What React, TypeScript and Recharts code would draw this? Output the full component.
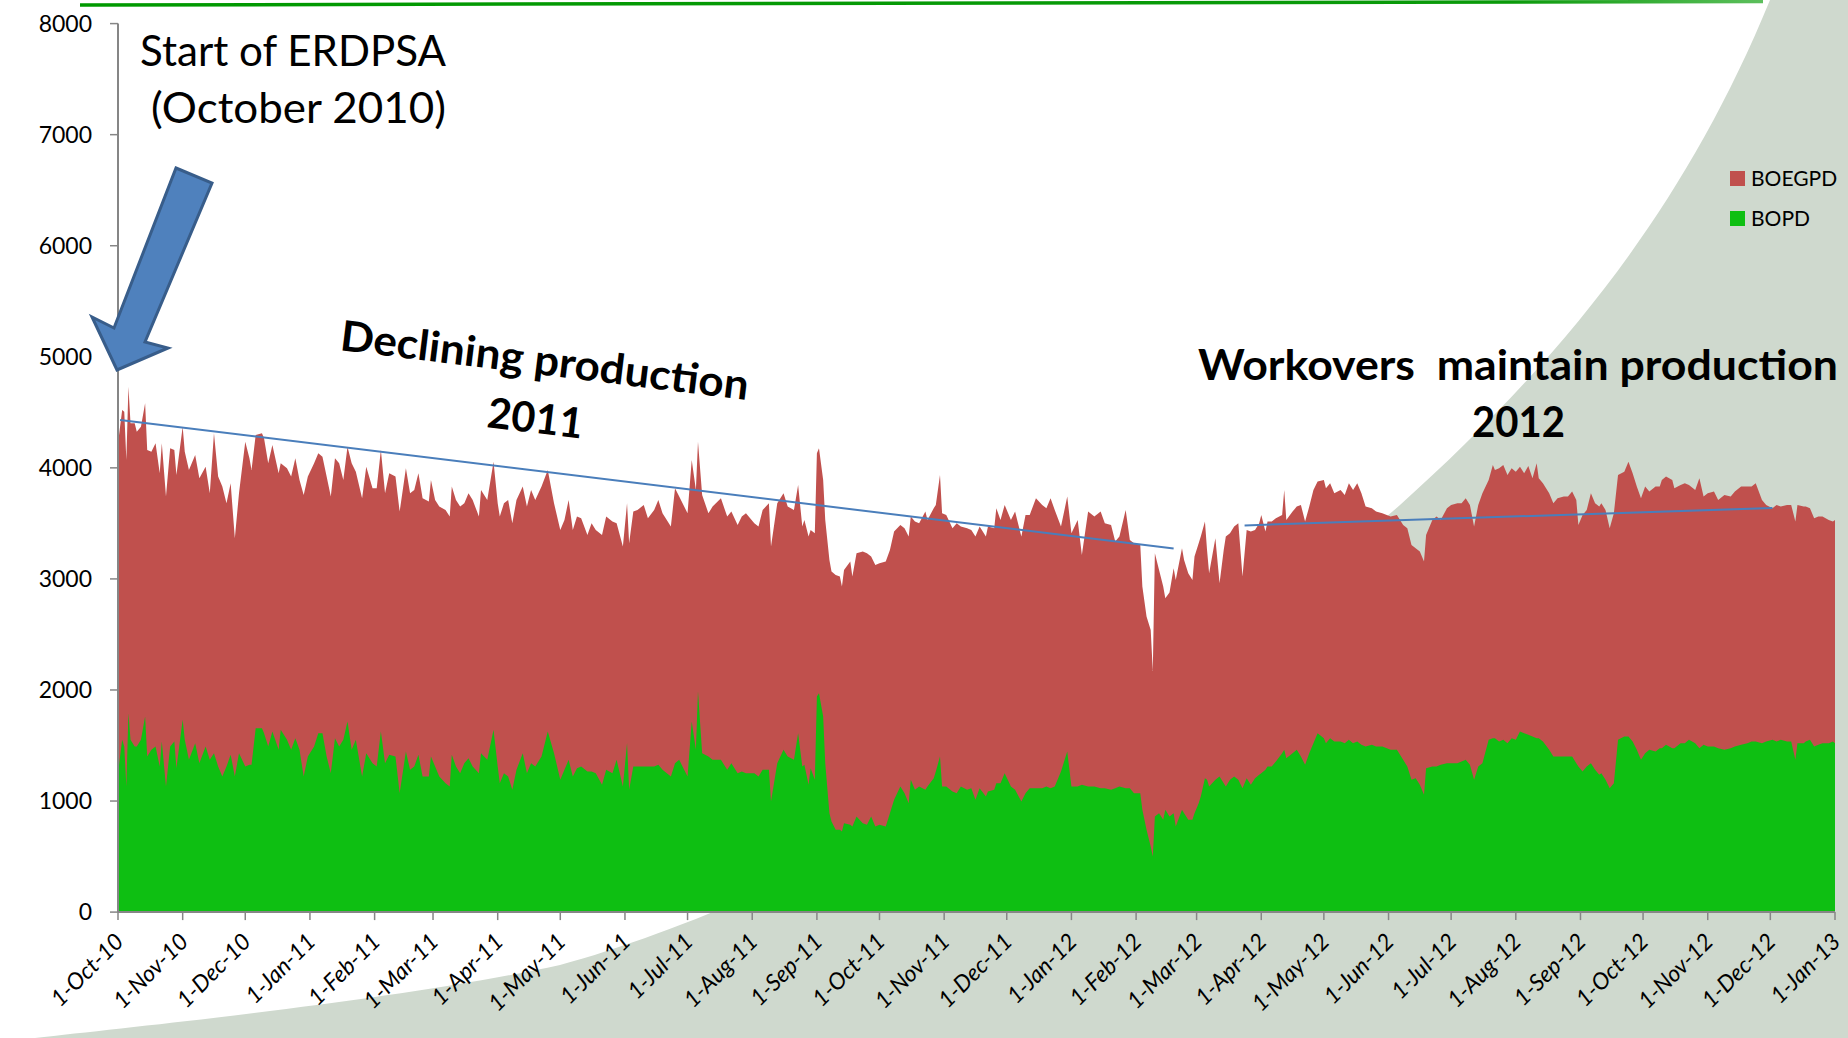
import React from 'react';
import { ComposedChart, Area, XAxis, YAxis, ReferenceLine, Legend } from 'recharts';

// Day offsets from 1-Oct-2010
const DAYS = [
  0,2,3,4,5,6,8,9,11,13,14,16,18,20,21,23,25,27,28,31,32,34,37,39,42,44,46,48,50,52,54,56,58,61,63,64,66,69,70,72,74,77,78,81,83,85,87,89,91,94,96,98,100,102,104,106,108,110,112,114,117,119,122,124,126,128,130,133,135,138,140,142,144,146,149,150,152,154,157,159,160,162,
  164,166,168,170,173,174,177,180,182,183,185,187,189,191,194,196,198,200,203,206,209,212,214,216,218,220,222,225,227,229,232,234,237,239,242,244,245,247,249,252,254,257,259,261,265,267,269,273,275,277,278,280,283,285,289,292,294,297,299,301,305,307,309,312,313,316,319,321,324,326,328,
  329,331,332,334,335,336,338,339,341,342,344,346,347,348,351,352,354,357,359,361,363,365,368,370,372,375,377,379,380,382,384,387,388,391,392,394,395,397,400,402,404,407,409,411,413,416,417,420,421,423,425,428,430,433,435,437,440,443,445,447,449,452,455,457,460,462,465,468,471,473,476,478,480,483,485,487,490,491,493,495,
  496,
  497,499,501,502,504,506,507,510,511,513,515,516,518,519,521,522,523,526,528,530,531,533,535,537,539,541,543,545,547,548,550,551,553,555,558,559,560,563,565,567,569,571,573,575,578,579,581,583,586,588,590,592,594,596,598,601,603,606,610,613,616,618,620,622,624,626,627,630,632,634,637,639,642,644,646,648,650,652,654,657,659,
  660,662,664,666,668,670,672,674,676,678,680,681,683,686,688,690,693,695,697,699,700,702,704,706,708,710,711,713,715,717,719,722,724,726,728,730,732,734,737,739,740,742,745,746,749,751,753,756,758,760,762,765,767,770,773,775,778,781,783,785,788,790,793,795,797,800,802,804,805,808,809,811,813,815,817,820,822,823,
];

const BOEGPD = [
  4221,4521,4506,4071,4731,4401,4401,4326,4371,4581,4161,4146,4221,3951,4221,3741,4176,4161,3936,4371,4146,3981,4116,3906,4011,3771,4311,3921,3831,3681,3861,3366,3771,4236,4086,3981,4296,4311,4266,4041,4206,3951,4041,3996,3921,4086,3891,3756,3921,4041,4131,4101,3921,3741,4086,4041,3891,4191,4041,3966,3726,4011,3816,3816,4161,3771,3951,3921,3606,3996,3771,3801,3951,3726,3696,3891,3711,3651,3621,3561,3831,3711,
  3651,3681,3771,3711,3561,3801,3711,4056,3681,3561,3681,3711,3501,3711,3831,3651,3801,3711,3831,3981,3681,3441,3531,3711,3441,3561,3546,3396,3501,3441,3396,3561,3516,3501,3291,3681,3321,3606,3621,3666,3546,3621,3711,3591,3471,3816,3741,3591,4071,3801,4236,3756,3591,3651,3726,3561,3606,3486,3561,3591,3501,3471,3621,3681,3291,3681,3771,3651,3621,3846,3471,
  3531,3381,3441,3411,4131,4176,3891,3531,3171,3066,3036,3021,2931,3081,3156,3021,3231,3246,3231,3201,3126,3141,3156,3261,3426,3486,3456,3381,3561,3516,3501,3606,3531,3636,3666,3936,3591,3576,3456,3501,3471,3456,3441,3381,3471,3381,3471,3456,3636,3531,3666,3531,3606,3381,3576,3576,3726,3666,3636,3726,3621,3471,3741,3411,3531,3216,3606,3561,3606,3501,3486,3336,3381,3621,3351,3321,3306,2931,2661,2541,
  2170,
  3231,3081,2931,2826,2877,3096,2991,3276,3171,3051,2991,3201,3321,3381,3516,3261,3051,3366,2961,3261,3381,3411,3471,3501,3021,3441,3426,3441,3501,3576,3426,3516,3516,3546,3576,3801,3531,3606,3651,3666,3516,3651,3801,3876,3891,3816,3861,3771,3801,3756,3861,3801,3861,3771,3651,3636,3606,3591,3561,3576,3486,3456,3306,3276,3246,3156,3396,3531,3561,3531,3636,3666,3681,3681,3726,3666,3471,3666,3771,3891,4026,
  3981,3996,4026,3936,3996,3966,4011,3951,4017,3906,4041,3906,3861,3771,3681,3726,3741,3741,3786,3711,3486,3576,3621,3771,3681,3651,3681,3621,3456,3591,3936,3966,4056,3951,3831,3726,3831,3786,3831,3831,3891,3921,3891,3816,3846,3861,3846,3801,3906,3741,3771,3786,3711,3756,3741,3786,3831,3831,3831,3861,3711,3666,3636,3666,3651,3666,3666,3516,3666,3651,3651,3636,3546,3561,3561,3531,3516,3531,
];

const BOPD = [
  1251,1551,1491,1131,1791,1551,1491,1491,1551,1761,1401,1461,1491,1311,1536,1131,1491,1536,1296,1731,1551,1371,1521,1341,1491,1371,1431,1311,1221,1311,1416,1221,1431,1311,1326,1326,1656,1656,1611,1491,1626,1461,1641,1551,1461,1566,1461,1221,1401,1491,1611,1611,1401,1251,1566,1491,1551,1716,1461,1551,1221,1431,1341,1311,1626,1341,1416,1401,1071,1446,1281,1311,1416,1221,1221,1401,1311,1221,1161,1131,1416,1311,
  1251,1341,1386,1311,1251,1431,1371,1641,1311,1161,1251,1221,1101,1281,1431,1251,1341,1311,1401,1626,1431,1191,1281,1371,1221,1296,1311,1266,1266,1251,1146,1281,1251,1371,1131,1521,1101,1311,1311,1311,1311,1311,1326,1281,1221,1341,1371,1221,1716,1461,1986,1431,1401,1371,1371,1281,1341,1251,1266,1251,1251,1221,1281,1281,996,1341,1461,1401,1371,1611,1311,
  1326,1146,1296,1191,1941,1971,1761,1341,891,816,741,741,726,801,786,771,861,801,786,861,771,786,771,891,1011,1131,1071,981,1191,1101,1131,1101,1131,1206,1266,1401,1131,1131,1086,1071,1131,1101,1116,1011,1116,1041,1086,1101,1161,1161,1251,1131,1101,996,1071,1116,1116,1116,1131,1116,1131,1266,1446,1131,1131,1146,1131,1131,1116,1116,1101,1116,1131,1116,1116,1071,1071,921,741,591,
  500,
  861,891,831,921,861,891,771,921,891,831,831,891,981,1041,1206,1191,1131,1191,1221,1161,1131,1191,1221,1191,1116,1206,1146,1206,1236,1251,1281,1311,1311,1356,1431,1461,1386,1431,1461,1401,1326,1431,1521,1611,1566,1521,1566,1536,1536,1521,1551,1521,1536,1506,1491,1506,1491,1491,1461,1461,1371,1311,1191,1206,1146,1056,1296,1311,1311,1326,1341,1341,1341,1356,1371,1326,1191,1311,1341,1551,1566,
  1566,1536,1551,1521,1566,1551,1626,1611,1596,1581,1566,1566,1536,1461,1401,1401,1401,1401,1401,1341,1311,1266,1311,1341,1281,1236,1251,1191,1116,1161,1551,1581,1581,1536,1461,1371,1431,1461,1446,1476,1476,1506,1476,1476,1521,1521,1551,1521,1476,1506,1491,1491,1476,1461,1476,1491,1506,1521,1536,1536,1521,1536,1551,1536,1551,1536,1536,1371,1521,1521,1536,1551,1491,1506,1521,1521,1536,1521,
];

const TICK_DAYS = [0,31,61,92,123,151,182,212,243,273,304,335,365,396,426,457,488,517,548,578,609,639,670,701,731,762,792,823];
const TICK_LABELS = ['1-Oct-10','1-Nov-10','1-Dec-10','1-Jan-11','1-Feb-11','1-Mar-11','1-Apr-11','1-May-11','1-Jun-11','1-Jul-11','1-Aug-11','1-Sep-11','1-Oct-11','1-Nov-11','1-Dec-11','1-Jan-12','1-Feb-12','1-Mar-12','1-Apr-12','1-May-12','1-Jun-12','1-Jul-12','1-Aug-12','1-Sep-12','1-Oct-12','1-Nov-12','1-Dec-12','1-Jan-13'];
const Y_TICKS = [0,1000,2000,3000,4000,5000,6000,7000,8000];

const TREND_2011 = [{ day: 1, value: 4431 }, { day: 506, value: 3273 }];
const TREND_2012 = [{ day: 540, value: 3482 }, { day: 793, value: 3639 }];

const SERIES_NAMES = ['BOEGPD', 'BOPD'];
const SERIES_COLORS = ['#c0504d', '#0ebf12'];

const data = DAYS.map((d, i) => ({ day: d, boegpd: BOEGPD[i], bopd: BOPD[i] }));

const FONT = 'Lato, "Open Sans", sans-serif';

const XTick = (props: any) => {
  const { x, y, payload } = props;
  const idx = TICK_DAYS.indexOf(payload.value);
  const label = idx >= 0 ? TICK_LABELS[idx] : '';
  const ex = x + 7;
  const ey = y + 23;
  return (
    <text
      transform={`rotate(-45, ${ex}, ${ey})`}
      x={ex}
      y={ey}
      textAnchor="end"
      fontSize={23}
      fontStyle="italic"
      fontFamily={FONT}
      fill="#000"
    >
      {label}
    </text>
  );
};

const renderLegend = () => (
  <svg width={120} height={80} style={{ display: 'block' }}>
    {SERIES_NAMES.map((n, i) => (
      <g key={n}>
        <rect x={2} y={11 + i * 40} width={15} height={15} fill={SERIES_COLORS[i]} />
        <text x={23} y={26 + i * 40} fontSize={21} fontFamily={FONT} fill="#000">
          {n}
        </text>
      </g>
    ))}
  </svg>
);

export default function App() {
  return (
    <div style={{ position: 'absolute', left: 0, top: 0, width: 1848, height: 1038, overflow: 'hidden', background: '#ffffff' }}>
      <svg width={1848} height={1038} style={{ position: 'absolute', left: 0, top: 0 }}>
        <path
          d="M 35 1038 C 150 1025, 400 1000, 560 965 C 800 900, 1200 680, 1400 505 C 1550 370, 1680 220, 1770 0 L 1848 0 L 1848 1038 Z"
          fill="#cfd9ce"
        />
      </svg>
      <div style={{ position: 'absolute', left: 0, top: 0 }}>
        <ComposedChart
          width={1848}
          height={1038}
          data={data}
          margin={{ top: 23.6, right: 13, bottom: 25.9, left: 18 }}
        >
          <XAxis
            dataKey="day"
            type="number"
            domain={[0, 823]}
            ticks={TICK_DAYS}
            interval={0}
            height={100}
            tickSize={8}
            tickMargin={0}
            axisLine={{ stroke: '#868686', strokeWidth: 2 }}
            tickLine={{ stroke: '#868686', strokeWidth: 1.5 }}
            tick={<XTick />}
            allowDataOverflow
          />
          <YAxis
            type="number"
            domain={[0, 8000]}
            ticks={Y_TICKS}
            interval={0}
            width={100}
            tickSize={8}
            tickMargin={18}
            axisLine={{ stroke: '#868686', strokeWidth: 2 }}
            tickLine={{ stroke: '#868686', strokeWidth: 1.5 }}
            tick={{ fill: '#000', fontSize: 23, fontFamily: FONT }}
          />
          <Area
            name={SERIES_NAMES[0]}
            dataKey="boegpd"
            type="linear"
            stroke="none"
            fill={SERIES_COLORS[0]}
            fillOpacity={1}
            isAnimationActive={false}
            dot={false}
            activeDot={false}
          />
          <Area
            name={SERIES_NAMES[1]}
            dataKey="bopd"
            type="linear"
            stroke="none"
            fill={SERIES_COLORS[1]}
            fillOpacity={1}
            isAnimationActive={false}
            dot={false}
            activeDot={false}
          />
          <ReferenceLine
            segment={[{ x: TREND_2011[0].day, y: TREND_2011[0].value }, { x: TREND_2011[1].day, y: TREND_2011[1].value }]}
            stroke="#4a7ebb"
            strokeWidth={2}
            ifOverflow="visible"
          />
          <ReferenceLine
            segment={[{ x: TREND_2012[0].day, y: TREND_2012[0].value }, { x: TREND_2012[1].day, y: TREND_2012[1].value }]}
            stroke="#4a7ebb"
            strokeWidth={2}
            ifOverflow="visible"
          />
          <Legend
            layout="horizontal"
            verticalAlign="middle"
            align="center"
            wrapperStyle={{ position: 'absolute', top: 160, left: 1728, width: 120, height: 80 }}
            content={renderLegend}
          />
        </ComposedChart>
      </div>
      <svg width={1848} height={1038} style={{ position: 'absolute', left: 0, top: 0, pointerEvents: 'none' }}>
        <defs>
          <linearGradient id="topline" gradientUnits="userSpaceOnUse" x1={80} y1={0} x2={1763} y2={0}>
            <stop offset="0" stopColor="#009900" />
            <stop offset="0.85" stopColor="#0a9a0a" />
            <stop offset="1" stopColor="#5cbf5c" />
          </linearGradient>
        </defs>
        <line x1={80} y1={5} x2={1763} y2={1.5} stroke="url(#topline)" strokeWidth={3.5} />
        <polygon
          points="176,168 212,183 145,342 168,348 117,370 92,317 114,328"
          fill="#4f81bd"
          stroke="#385d8a"
          strokeWidth={3}
        />
        <g fontFamily={FONT} fill="#000">
          <text x={140} y={66} fontSize={43} textLength={306} lengthAdjust="spacingAndGlyphs">Start of ERDPSA</text>
          <text x={151} y={123} fontSize={43} textLength={295} lengthAdjust="spacingAndGlyphs">(October 2010)</text>
          <text transform="translate(339,350) rotate(7)" fontSize={42} fontWeight={700} textLength={411} lengthAdjust="spacingAndGlyphs">Declining production</text>
          <text transform="translate(486,427) rotate(7)" fontSize={42} fontWeight={700} textLength={96} lengthAdjust="spacingAndGlyphs">2011</text>
          <text x={1198} y={380} fontSize={42} fontWeight={700} textLength={640} lengthAdjust="spacingAndGlyphs" style={{ whiteSpace: 'pre' }}>Workovers  maintain production</text>
          <text x={1472} y={437} fontSize={42} fontWeight={700} textLength={93} lengthAdjust="spacingAndGlyphs">2012</text>
        </g>
      </svg>
    </div>
  );
}
